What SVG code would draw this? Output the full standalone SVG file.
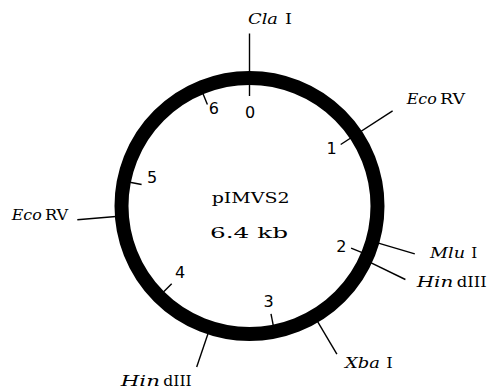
<svg xmlns="http://www.w3.org/2000/svg" width="489" height="391" viewBox="0 0 489 391">
  <style>
    .ring { fill: none; stroke: #000; stroke-width: 14; }
    .ln { stroke: #000; stroke-width: 1.4; fill: none; }
    .num { font-family: "DejaVu Sans", sans-serif; font-size: 16px; fill: #000; text-anchor: middle; }
    .it { font-family: "DejaVu Serif", serif; font-style: italic; font-size: 15px; fill: #000; }
    .up { font-family: "DejaVu Serif", serif; font-size: 15px; fill: #000; }
    .ctr { font-family: "DejaVu Serif", serif; font-size: 15px; fill: #000; }
  </style>
  <rect width="489" height="391" fill="#fff"/>

  <!-- plasmid backbone -->
  <g id="plasmid">
    <circle class="ring" cx="249.5" cy="206" r="128"/>
    <text class="ctr" x="211.7" y="203.3" textLength="78" lengthAdjust="spacingAndGlyphs">pIMVS2</text>
    <text class="ctr" x="210" y="238" textLength="78" lengthAdjust="spacingAndGlyphs">6.4  kb</text>
  </g>

  <!-- kb scale ticks and site leader lines -->
  <g id="connectors">
    <line class="ln" x1="249.5" y1="33.5" x2="249.5" y2="96"/>
    <line class="ln" x1="340.7" y1="144.5" x2="392.6" y2="110.8"/>
    <line class="ln" x1="351.1" y1="248.1" x2="362.2" y2="252.7"/>
    <line class="ln" x1="271" y1="313.9" x2="273.3" y2="325.7"/>
    <line class="ln" x1="171.7" y1="283.8" x2="163.2" y2="292.3"/>
    <line class="ln" x1="141.6" y1="184.5" x2="129.8" y2="182.2"/>
    <line class="ln" x1="207.4" y1="104.4" x2="202.8" y2="93.3"/>
    <line class="ln" x1="372.5" y1="241.3" x2="414.8" y2="253.8"/>
    <line class="ln" x1="365.5" y1="260.1" x2="405.4" y2="279.5"/>
    <line class="ln" x1="314.5" y1="316.3" x2="336.9" y2="354.2"/>
    <line class="ln" x1="210" y1="327.7" x2="196.7" y2="367"/>
    <line class="ln" x1="121.9" y1="216" x2="77.3" y2="219.8"/>
  </g>

  <!-- kb scale numbers -->
  <g id="scale">
    <text class="num" x="250" y="118.3">0</text>
    <text class="num" x="331.5" y="154.2">1</text>
    <text class="num" x="341.3" y="251.6">2</text>
    <text class="num" x="268.7" y="307">3</text>
    <text class="num" x="180" y="278.3">4</text>
    <text class="num" x="152" y="182.8">5</text>
    <text class="num" x="213.8" y="114.1">6</text>
  </g>

  <!-- restriction sites -->
  <g id="site-claI">
    <text class="it" x="248" y="23.5" textLength="30" lengthAdjust="spacingAndGlyphs">Cla</text>
    <text class="up" x="285" y="23.5" textLength="7" lengthAdjust="spacingAndGlyphs">I</text>
  </g>
  <g id="site-ecoRV-1">
    <text class="it" x="406.7" y="104" textLength="30" lengthAdjust="spacingAndGlyphs">Eco</text>
    <text class="up" x="440" y="104" textLength="25" lengthAdjust="spacingAndGlyphs">RV</text>
  </g>
  <g id="site-mluI">
    <text class="it" x="430" y="257.7" textLength="35" lengthAdjust="spacingAndGlyphs">Mlu</text>
    <text class="up" x="471.2" y="257.7" textLength="6" lengthAdjust="spacingAndGlyphs">I</text>
  </g>
  <g id="site-hindIII-1">
    <text class="it" x="416.7" y="286.7" textLength="36.6" lengthAdjust="spacingAndGlyphs">Hin</text>
    <text class="up" x="456.7" y="286.7" textLength="30" lengthAdjust="spacingAndGlyphs">dIII</text>
  </g>
  <g id="site-xbaI">
    <text class="it" x="345" y="367.7" textLength="35" lengthAdjust="spacingAndGlyphs">Xba</text>
    <text class="up" x="386.2" y="367.7" textLength="6.5" lengthAdjust="spacingAndGlyphs">I</text>
  </g>
  <g id="site-hindIII-2">
    <text class="it" x="120.7" y="386" textLength="39.3" lengthAdjust="spacingAndGlyphs">Hin</text>
    <text class="up" x="163.3" y="386" textLength="28.4" lengthAdjust="spacingAndGlyphs">dIII</text>
  </g>
  <g id="site-ecoRV-2">
    <text class="it" x="11.7" y="220" textLength="30" lengthAdjust="spacingAndGlyphs">Eco</text>
    <text class="up" x="45" y="220" textLength="23.3" lengthAdjust="spacingAndGlyphs">RV</text>
  </g>
</svg>
